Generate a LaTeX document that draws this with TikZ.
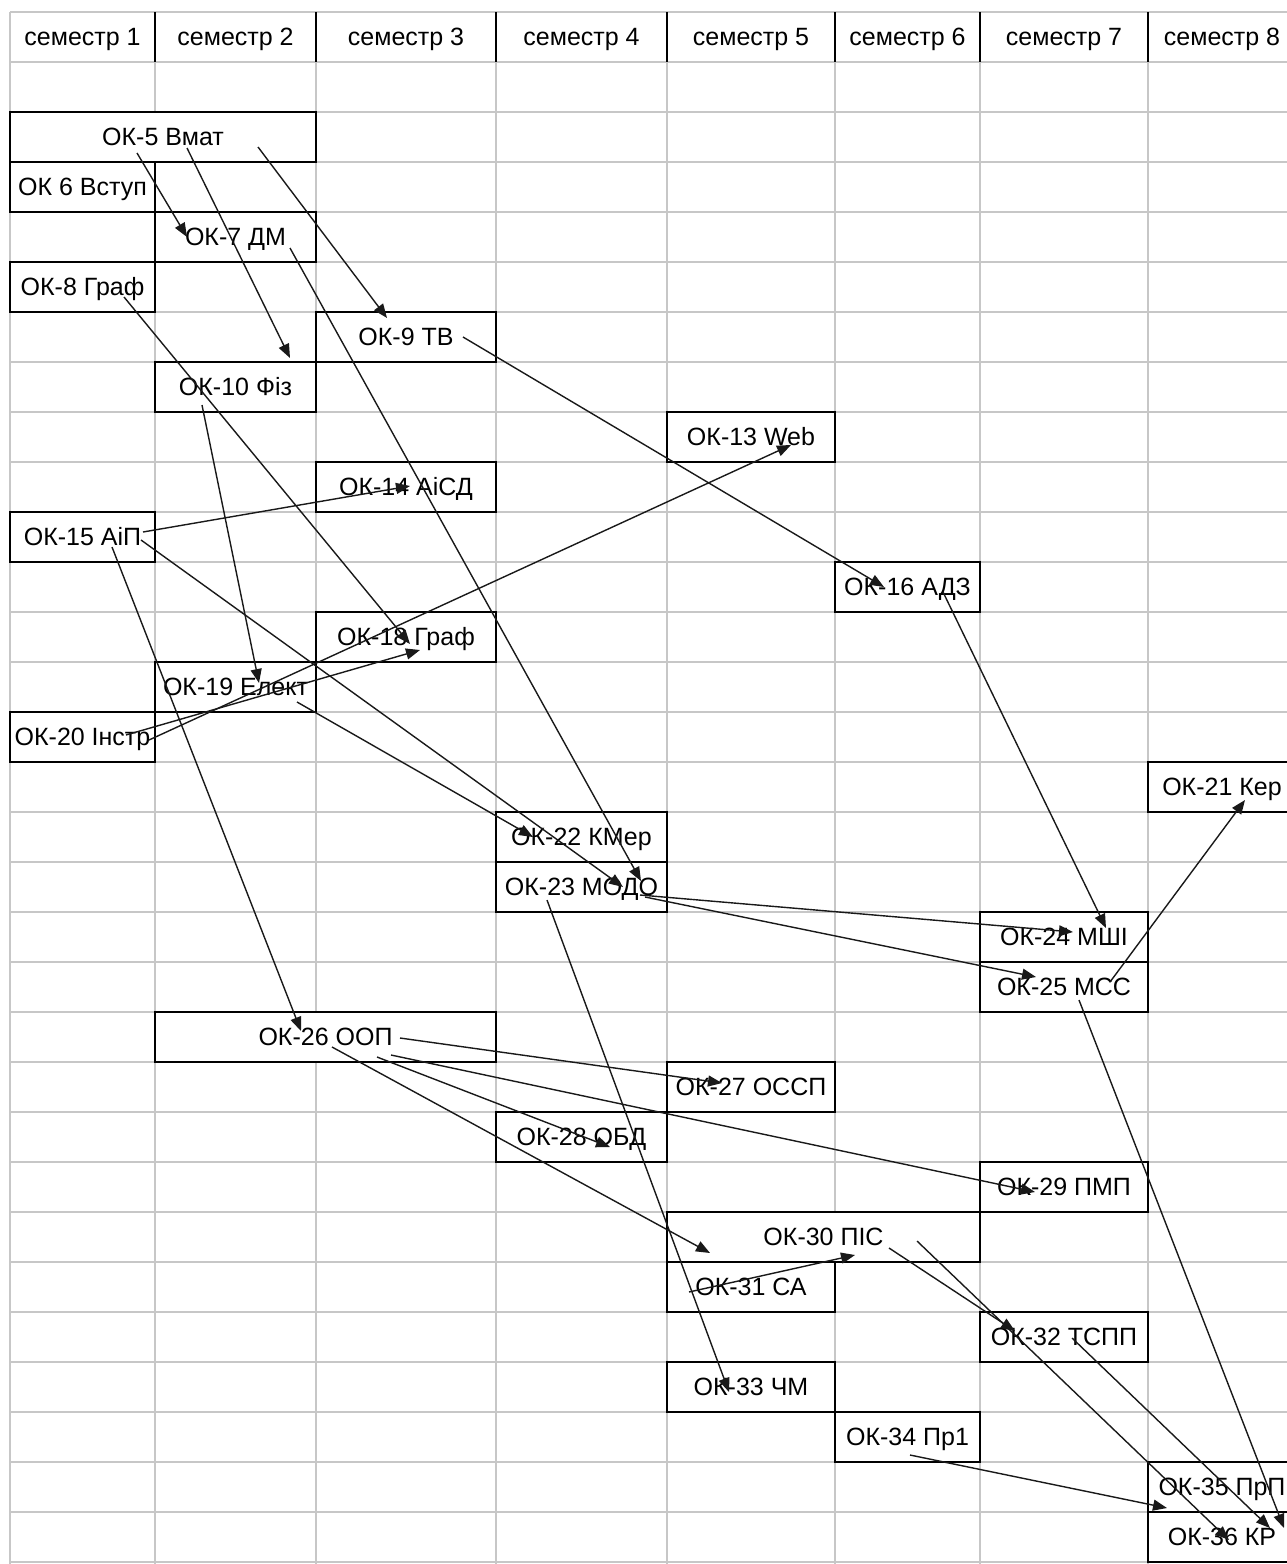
\documentclass[tikz,border=0pt]{standalone}
\usepackage{fontspec}
\setmainfont{Liberation Sans}
\usetikzlibrary{arrows.meta}
\begin{document}
\begin{tikzpicture}[
		x=1pt,
		y=-1pt,
		>={Triangle[length=14pt,width=11pt]},
		font=\fontsize{25}{28}\selectfont
		]
		\tikzstyle{grid line}=[
			draw=black!22,
			line width=2pt
		]
		\tikzstyle{head line}=[
			draw=black,
			line width=2pt
		]
		\tikzstyle{cell}=[
			text height=18pt,
			text depth=2pt,
			inner sep=0pt
		]
		\tikzstyle{course}=[
			cell,
			rectangle,
			draw,
			fill=white,
			line width=2pt,
			minimum height=50pt
		]
		\tikzstyle{link}=[
			->,
			line width=1.4pt,
			color=black!90
		]
		\useasboundingbox (0,0) rectangle (1287,1564);
		\clip (0,0) rectangle (1287,1564);
		% Draw the grid of the sheet.
			\foreach \k in {0, ..., 31}
				\draw[grid line] (10,12+50*\k) -- (1287,12+50*\k);
			\foreach \x in {10, 155, 316, 496, 667, 835, 980, 1148}
				\draw[grid line] (\x,12) -- (\x,1564);
		% Draw the header row.
			\foreach \x in {155, 316, 496, 667, 835, 980, 1148}
				\draw[head line] (\x,12) -- (\x,62);
			\foreach \n / \x in {1/82.5, 2/235.5, 3/406, 4/581.5, 5/751, 6/907.5, 7/1064, 8/1222}
				\node[cell] (S-\n) at (\x,37) {семестр \n};
		% Draw the courses.
			\foreach \name / \x / \y / \w / \txt in {
				OK-5/163/137/306/ОК-5 Вмат,
				OK-6/82.5/187/145/ОК 6 Вступ,
				OK-7/235.5/237/161/ОК-7 ДМ,
				OK-8/82.5/287/145/ОК-8 Граф,
				OK-9/406/337/180/ОК-9 ТВ,
				OK-10/235.5/387/161/ОК-10 Фіз,
				OK-13/751/437/168/ОК-13 Web,
				OK-14/406/487/180/ОК-14 АіСД,
				OK-15/82.5/537/145/ОК-15 АіП,
				OK-16/907.5/587/145/ОК-16 АДЗ,
				OK-18/406/637/180/ОК-18 Граф,
				OK-19/235.5/687/161/ОК-19 Елект,
				OK-20/82.5/737/145/ОК-20 Інстр,
				OK-21/1222/787/148/ОК-21 Кер,
				OK-22/581.5/837/171/ОК-22 КМер,
				OK-23/581.5/887/171/ОК-23 МОДО,
				OK-24/1064/937/168/ОК-24 МШІ,
				OK-25/1064/987/168/ОК-25 МСС,
				OK-26/325.5/1037/341/ОК-26 ООП,
				OK-27/751/1087/168/ОК-27 ОССП,
				OK-28/581.5/1137/171/ОК-28 ОБД,
				OK-29/1064/1187/168/ОК-29 ПМП,
				OK-30/823.5/1237/313/ОК-30 ПІС,
				OK-31/751/1287/168/ОК-31 СА,
				OK-32/1064/1337/168/ОК-32 ТСПП,
				OK-33/751/1387/168/ОК-33 ЧМ,
				OK-34/907.5/1437/145/ОК-34 Пр1,
				OK-35/1222/1487/148/ОК-35 ПрП,
				OK-36/1222/1537/148/ОК-36 КР}
				\node[course, minimum width=\w pt] (\name) at (\x,\y) {\txt};
		% Connect every course with the courses that need it.
			\foreach \from / \fx / \fy / \to / \tx / \ty in {
				OK-5/-26/16/OK-7/-48.5/0,
				OK-5/24/11/OK-10/54.5/-29,
				OK-5/95/10/OK-9/-19/-19,
				OK-7/54.5/11/OK-23/59.5/-6,
				OK-8/41.5/10/OK-18/4/7,
				OK-9/57/0/OK-16/-23.5/0,
				OK-10/-33.5/18/OK-19/23.5/-4,
				OK-15/60.5/-5/OK-14/4/-1,
				OK-15/58.5/3/OK-23/41.5/0,
				OK-15/29.5/10/OK-26/-24.5/-6,
				OK-20/66.5/3/OK-13/40/8,
				OK-20/43.5/-2/OK-18/14/13,
				OK-19/61.5/15/OK-22/-48.5/0,
				OK-23/-34.5/13/OK-33/-22/5,
				OK-23/58.5/8/OK-24/9/-5,
				OK-23/63.5/10/OK-25/-28/-10,
				OK-16/35.5/5/OK-24/42/-9,
				OK-25/46/-5/OK-21/23/13,
				OK-25/15/13/OK-36/62/-9,
				OK-26/74.5/1/OK-27/-29/-4,
				OK-26/65.5/18/OK-29/-29/5,
				OK-26/51.5/20/OK-28/28.5/10,
				OK-26/6.5/10/OK-30/-113.5/16,
				OK-31/-62/5/OK-30/31.5/18,
				OK-30/65.5/11/OK-32/-49/-6,
				OK-30/93.5/4/OK-36/7/3,
				OK-32/8/1/OK-36/48/-9,
				OK-34/2.5/18/OK-35/-55/21}
				\draw[link] ([shift={(\fx,\fy)}]\from.center) -- ([shift={(\tx,\ty)}]\to.center);
	\end{tikzpicture}
\end{document}
